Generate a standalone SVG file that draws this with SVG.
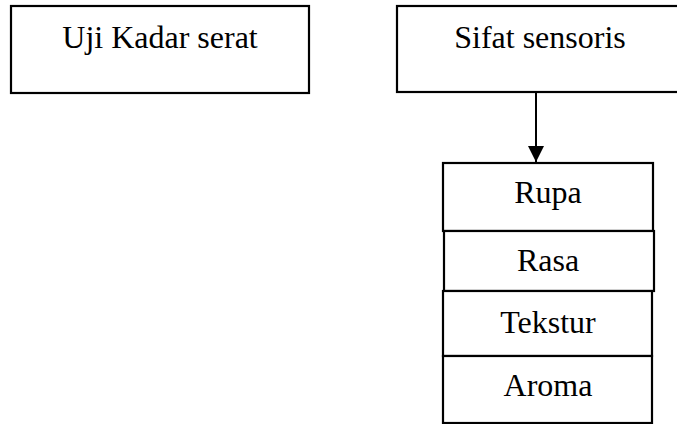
<svg xmlns="http://www.w3.org/2000/svg" width="677" height="424" viewBox="0 0 677 424">
<style>
.box{fill:#fff;stroke:#000;stroke-width:2.2}
.t{font-family:"Liberation Serif","Times New Roman",serif;font-size:32px;fill:#000;text-anchor:middle}
.conn{stroke:#000;stroke-width:2;fill:none}
</style>
<defs>
<marker id="ah" viewBox="0 0 16 16" refX="16" refY="8" markerWidth="16" markerHeight="16" markerUnits="userSpaceOnUse" orient="auto">
<path d="M0,0 L16,8 L0,16 Z" fill="#000"/>
</marker>
</defs>
<rect width="677" height="424" fill="#fff"/>
<g id="uji-kadar-serat">
<rect class="box" x="11" y="6" width="298" height="87"/>
<text class="t" x="160" y="48">Uji Kadar serat</text>
</g>
<g id="sifat-sensoris">
<rect class="box" x="397" y="6" width="292" height="86"/>
<text class="t" x="540" y="48">Sifat sensoris</text>
</g>
<g id="rupa">
<rect class="box" x="443" y="163" width="210" height="68"/>
<text class="t" x="548" y="203">Rupa</text>
</g>
<g id="rasa">
<rect class="box" x="444" y="231" width="210" height="60"/>
<text class="t" x="548" y="271">Rasa</text>
</g>
<g id="tekstur">
<rect class="box" x="443" y="291" width="209" height="65"/>
<text class="t" x="548" y="333">Tekstur</text>
</g>
<g id="aroma">
<rect class="box" x="443" y="356" width="209" height="67"/>
<text class="t" x="548" y="396">Aroma</text>
</g>
<g id="connectors">
<line class="conn" x1="536" y1="93" x2="536" y2="162" marker-end="url(#ah)"/>
</g>
</svg>
